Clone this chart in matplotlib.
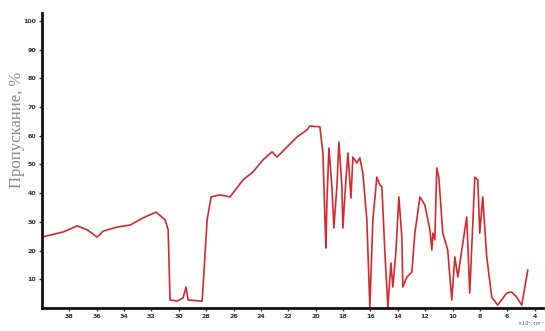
import matplotlib.pyplot as plt
import numpy as np

# wavenumber, x10^2 cm^-1
wavenumber = [40.0, 38.45, 37.42, 36.69, 35.96, 35.53, 34.50, 33.55, 32.61, 31.66,
              31.00, 30.78, 30.64, 30.12, 29.69, 29.47, 29.32, 28.30, 28.23, 27.93,
              27.64, 26.99, 26.26, 25.31, 24.58, 23.85, 23.19, 22.82, 22.09, 21.36,
              20.64, 20.42, 19.69, 19.47, 19.32, 19.25, 19.18, 19.03, 18.81, 18.67,
              18.45, 18.30, 18.08, 18.01, 17.79, 17.64, 17.42, 17.28, 16.99, 16.77,
              16.55, 16.26, 16.04, 15.82, 15.53, 15.31, 15.16, 14.94, 14.72, 14.50,
              14.36, 14.14, 13.92, 13.70, 13.63, 13.33, 12.97, 12.75, 12.38, 12.02,
              11.65, 11.51, 11.43, 11.29, 11.15, 11.00, 10.71, 10.35, 10.05, 9.83,
              9.61, 9.32, 8.96, 8.74, 8.37, 8.15, 8.01, 7.79, 7.50, 7.13,
              6.70, 6.04, 5.68, 5.31, 4.94, 4.50]
# transmittance, %
transmittance = [24.7, 26.5, 28.6, 27.2, 24.7, 26.8, 28.2, 28.9, 31.4, 33.4,
                 30.7, 27.2, 2.8, 2.4, 3.5, 7.3, 2.8, 2.4, 7.3, 30.7,
                 38.7, 39.4, 38.7, 44.6, 47.4, 51.6, 54.4, 52.6, 56.1, 59.6,
                 62.0, 63.4, 63.1, 54.0, 30.7, 20.9, 36.6, 55.7, 42.2, 27.9,
                 42.2, 57.8, 42.2, 27.9, 44.6, 54.0, 38.3, 52.6, 50.5, 52.3,
                 47.0, 30.7, 0.3, 30.7, 45.6, 42.9, 42.2, 19.2, 0.3, 15.7,
                 7.3, 19.2, 38.7, 24.7, 7.3, 10.8, 12.5, 26.1, 38.7, 35.9,
                 27.2, 20.2, 26.1, 23.7, 48.8, 45.6, 26.1, 20.2, 2.8, 17.8,
                 10.8, 20.2, 31.7, 5.2, 45.6, 44.6, 26.1, 38.7, 17.8, 3.8,
                 1.0, 5.2, 5.6, 3.8, 1.0, 13.2]

x_ticks = [38, 36, 34, 32, 30, 28, 26, 24, 22, 20, 18, 16, 14, 12, 10, 8, 6, 4]
y_ticks = [10, 20, 30, 40, 50, 60, 70, 80, 90, 100]

fig = plt.figure(figsize=(5.45, 3.31), dpi=100)
ax = fig.add_axes([0.077, 0.0695, 0.919, 0.8915])

ax.plot(wavenumber, transmittance, color='#d42a2e', lw=1.2)

ax.set_xlim(40, 3.4)
ax.set_ylim(0, 102.8)
ax.set_xticks(x_ticks)
ax.set_yticks(y_ticks)
ax.tick_params(labelsize=4.5, width=1, length=2.5, colors='#333333', pad=1.5)
for lab in ax.get_xticklabels() + ax.get_yticklabels():
    lab.set_fontweight('bold')

for side in ['top', 'right']:
    ax.spines[side].set_visible(False)
for side in ['left', 'bottom']:
    ax.spines[side].set_linewidth(2)
    ax.spines[side].set_color('#111111')

fig.text(0.032, 0.607, 'Пропускание, %', rotation=90, ha='center', va='center',
         fontsize=12, family='Liberation Serif', color='#8a8a8a')
fig.text(0.975, 0.015, '×10², см⁻¹', ha='center', va='bottom',
         fontsize=3.5, color='#555555')

fig.savefig('out.png', dpi=100)
